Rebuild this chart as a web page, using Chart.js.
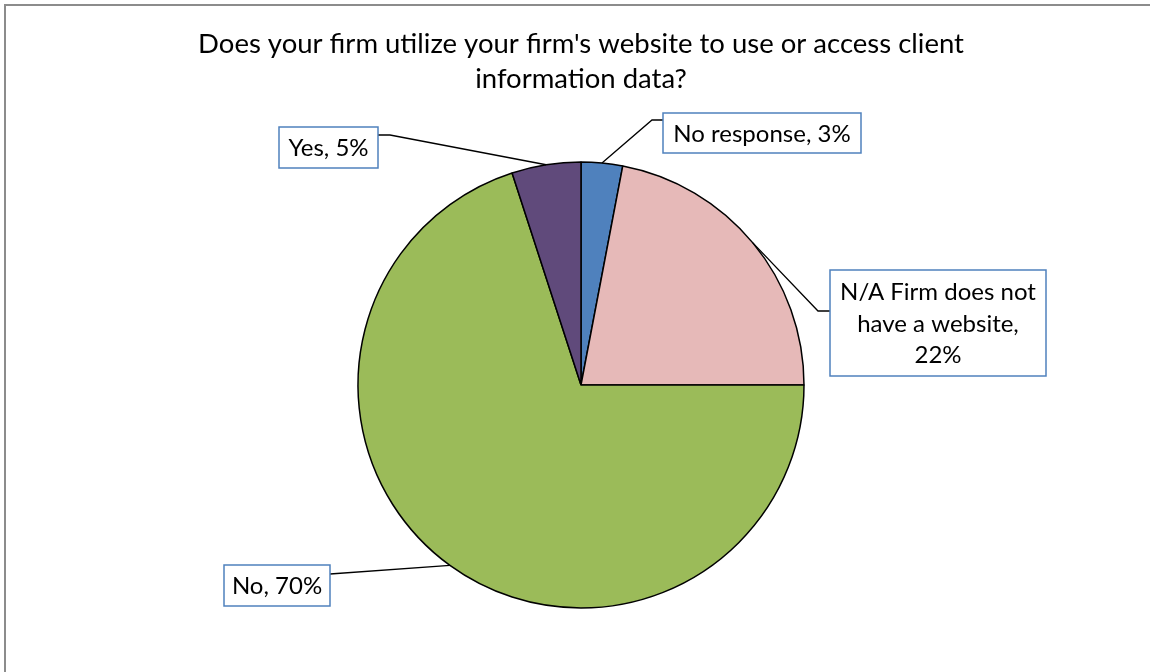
<!DOCTYPE html>
<html>
<head>
<meta charset="utf-8">
<script src="https://cdn.jsdelivr.net/npm/chart.js@4"></script>
<style>
  html, body { margin: 0; padding: 0; background: #fff; overflow: hidden; }
  canvas { display: block; }
</style>
</head>
<body>
<canvas id="grafica" width="1150" height="672"></canvas>
<script>
// Datos de la encuesta
const titulo = ["Does your firm utilize your firm's website to use or access client", "information data?"];
const categorias = ["No response", "N/A Firm does not have a website", "No", "Yes"];
const porcentajes = [3, 22, 70, 5];
const colores = ["#4F81BD", "#E6B9B8", "#9BBB59", "#604A7B"];

// Cajas de etiqueta: posicion, tamano, ancho de texto y codo de la linea guia
const cajas = [
  { x: 663, y: 113, w: 198, h: 40, texto: 300, codo: [652, 120], union: [663, 120] },
  { x: 830, y: 270, w: 216, h: 106, texto: 200, codo: [818, 311], union: [830, 311] },
  { x: 224, y: 565, w: 106, h: 41, texto: 300, codo: [330, 574], union: [330, 574] },
  { x: 279, y: 127, w: 99, h: 41, texto: 300, codo: [390, 135], union: [378, 135] }
];

const fuente = "Lato, 'Noto Sans', sans-serif";

function partirTexto(ctx, texto, ancho) {
  const palabras = texto.split(" ");
  const lineas = [];
  let actual = "";
  palabras.forEach(p => {
    const prueba = actual ? actual + " " + p : p;
    if (actual && ctx.measureText(prueba).width > ancho) {
      lineas.push(actual);
      actual = p;
    } else {
      actual = prueba;
    }
  });
  lineas.push(actual);
  return lineas;
}

const etiquetasPlugin = {
  id: "etiquetas",
  beforeDraw(chart) {
    const ctx = chart.ctx;
    ctx.save();
    ctx.fillStyle = "#fff";
    ctx.fillRect(0, 0, chart.width, chart.height);
    // marco gris: solo borde izquierdo y superior
    ctx.strokeStyle = "#8c8c8c";
    ctx.lineWidth = 2;
    ctx.beginPath();
    ctx.moveTo(5, chart.height);
    ctx.lineTo(5, 5);
    ctx.lineTo(chart.width, 5);
    ctx.stroke();
    ctx.restore();
  },
  afterDatasetsDraw(chart) {
    const ctx = chart.ctx;
    const arcos = chart.getDatasetMeta(0).data;
    ctx.save();
    ctx.font = "24px " + fuente;
    arcos.forEach((arco, i) => {
      const { x, y, startAngle, endAngle, outerRadius } = arco.getProps(["x", "y", "startAngle", "endAngle", "outerRadius"], true);
      const medio = (startAngle + endAngle) / 2;
      const ax = x + Math.cos(medio) * outerRadius;
      const ay = y + Math.sin(medio) * outerRadius;
      const caja = cajas[i];

      // linea guia
      ctx.strokeStyle = "#000";
      ctx.lineWidth = 1.3;
      ctx.beginPath();
      ctx.moveTo(ax, ay);
      ctx.lineTo(caja.codo[0], caja.codo[1]);
      ctx.lineTo(caja.union[0], caja.union[1]);
      ctx.stroke();

      // caja
      ctx.fillStyle = "#fff";
      ctx.fillRect(caja.x, caja.y, caja.w, caja.h);
      ctx.strokeStyle = "#4F81BD";
      ctx.lineWidth = 1.5;
      ctx.strokeRect(caja.x, caja.y, caja.w, caja.h);

      // texto
      const texto = categorias[i] + ", " + porcentajes[i] + "%";
      const lineas = partirTexto(ctx, texto, caja.texto);
      const alto = 31.5;
      const cx = caja.x + caja.w / 2;
      const cy = caja.y + caja.h / 2 - (lineas.length - 1) * alto / 2;
      ctx.fillStyle = "#000";
      ctx.textAlign = "center";
      ctx.textBaseline = "middle";
      lineas.forEach((l, j) => ctx.fillText(l, cx, cy + j * alto + 1));
    });
    ctx.restore();
  }
};

function prepararConfiguracion() {
  return {
    type: "pie",
    data: {
      labels: categorias,
      datasets: [{
        data: porcentajes,
        backgroundColor: colores,
        borderColor: "#000",
        borderWidth: 1.5,
        radius: 223
      }]
    },
    options: {
      responsive: false,
      animation: false,
      layout: { padding: { left: 12, right: 0, top: 0, bottom: 0 } },
      plugins: {
        legend: { display: false },
        tooltip: { enabled: false },
        title: {
          display: true,
          text: titulo,
          color: "#000",
          font: { family: fuente, size: 27.5, weight: "normal", lineHeight: 35 / 27.5 },
          padding: { top: 27, bottom: 1 }
        }
      }
    },
    plugins: [etiquetasPlugin]
  };
}

new Chart(document.getElementById("grafica"), prepararConfiguracion());
</script>
</body>
</html>
